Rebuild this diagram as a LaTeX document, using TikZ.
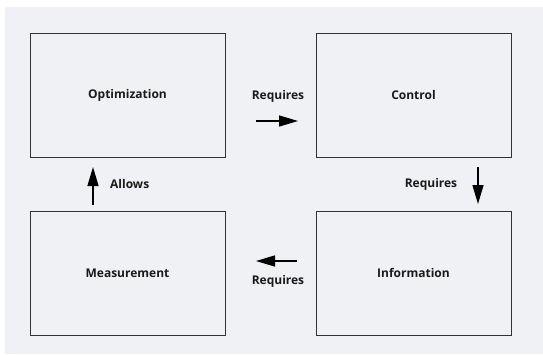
\documentclass[tikz,border=0pt]{standalone}
\usepackage{fontspec}
\setmainfont{Open Sans}
\usetikzlibrary{arrows.meta}
\definecolor{bgc}{HTML}{F0F1F4}
\definecolor{edgec}{HTML}{333333}
\definecolor{txtc}{HTML}{1A1A1A}
\tikzset{
  box/.style={draw=edgec, line width=1pt, fill=bgc, minimum width=195pt, minimum height=124pt, inner sep=0pt, font=\fontsize{12}{14}\selectfont\bfseries, text=txtc},
  lbl/.style={font=\fontsize{12}{14}\selectfont\bfseries, text=txtc, inner sep=0pt},
  arr/.style={-{Triangle[length=19pt,width=11pt]}, line width=1.4pt, draw=black}
}
\begin{document}
\begin{tikzpicture}[x=1pt,y=-1pt]
\useasboundingbox (0,0) rectangle (543,354);
\fill[bgc] (5,7) rectangle (543,354);
\node[box] (opt) at (127.5,95) {Optimization};
\node[box] (ctrl) at (413.5,95) {Control};
\node[box] (meas) at (127.5,273) {Measurement};
\node[box] (info) at (413.5,273) {Information};
\node[lbl] (l1) at (278,96) {Requires};
\node[lbl] (l2) at (431,184) {Requires};
\node[lbl] (l3) at (278,281) {Requires};
\node[lbl,anchor=west] (l4) at (110,184) {Allows};
\coordinate (a1s) at (256,121); \coordinate (a1e) at (298,121);
\coordinate (a2s) at (478,167); \coordinate (a2e) at (478,204);
\coordinate (a3s) at (297,261); \coordinate (a3e) at (256,261);
\coordinate (a4s) at (93,205); \coordinate (a4e) at (93,167);
\draw[arr] (a1s) -- (a1e);
\draw[arr] (a2s) -- (a2e);
\draw[arr] (a3s) -- (a3e);
\draw[arr] (a4s) -- (a4e);
\end{tikzpicture}
\end{document}
